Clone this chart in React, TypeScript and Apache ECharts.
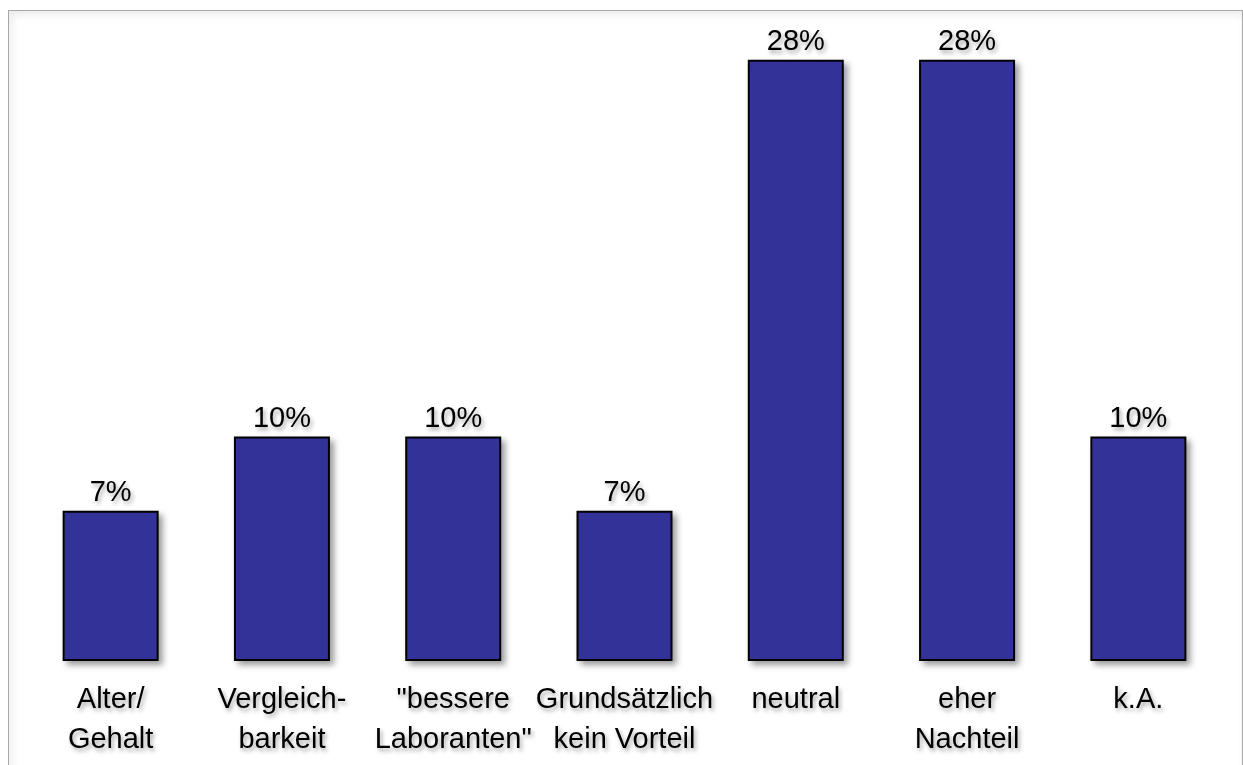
import React, { useEffect, useRef } from "react";
import * as echarts from "echarts";

const categories = [
  "Alter/\nGehalt",
  "Vergleich-\nbarkeit",
  "\"bessere\nLaboranten\"",
  "Grundsätzlich\nkein Vorteil",
  "neutral",
  "eher\nNachteil",
  "k.A.",
];
const values = [6.9, 10.3, 10.3, 6.9, 27.6, 27.6, 10.3];

const FONT = "'Liberation Sans', Arial, sans-serif";

export default function App() {
  const ref = useRef<HTMLDivElement>(null);
  useEffect(() => {
    if (!ref.current) return;
    const chart = echarts.init(ref.current, null, { renderer: "svg" });
    chart.setOption({
      animation: false,
      backgroundColor: "transparent",
      grid: { left: 16, top: 40, width: 1199, height: 610, containLabel: false },
      xAxis: {
        type: "category",
        data: categories,
        axisLine: {
          show: true,
          lineStyle: {
            color: "#000",
            width: 2,
            shadowColor: "rgba(0,0,0,0.35)",
            shadowBlur: 5,
            shadowOffsetY: 4,
            shadowOffsetX: 2,
          },
        },
        axisTick: { show: false },
        axisLabel: {
          interval: 0,
          margin: 17,
          fontSize: 29,
          lineHeight: 40,
          color: "#000",
          fontFamily: FONT,
          textShadowColor: "rgba(0,0,0,0.35)",
          textShadowBlur: 4,
          textShadowOffsetX: 2,
          textShadowOffsetY: 3,
        },
      },
      yAxis: {
        type: "value",
        min: 0,
        max: 28,
        show: false,
        splitLine: { show: false },
      },
      series: [
        {
          type: "bar",
          data: values,
          barWidth: 96,
          itemStyle: {
            color: "#333399",
            borderColor: "#000",
            borderWidth: 2,
            shadowColor: "rgba(0,0,0,0.4)",
            shadowBlur: 6,
            shadowOffsetX: 4,
            shadowOffsetY: 4,
          },
          label: {
            show: true,
            position: "top",
            distance: 5,
            formatter: (p: any) => Math.round(p.value) + "%",
            fontSize: 29,
            color: "#000",
            fontFamily: FONT,
            textShadowColor: "rgba(0,0,0,0.35)",
            textShadowBlur: 4,
            textShadowOffsetX: 2,
            textShadowOffsetY: 3,
          },
        },
      ],
    });
    return () => chart.dispose();
  }, []);
  return (
    <div
      style={{
        position: "fixed",
        left: 8,
        top: 10,
        width: 1235,
        height: 780,
        border: "1px solid #a8a8a8",
        boxSizing: "border-box",
        boxShadow: "inset 3px 4px 8px rgba(0,0,0,0.08)",
        background: "#fff",
      }}
    >
      <div ref={ref} style={{ width: 1233, height: 778 }} />
    </div>
  );
}
